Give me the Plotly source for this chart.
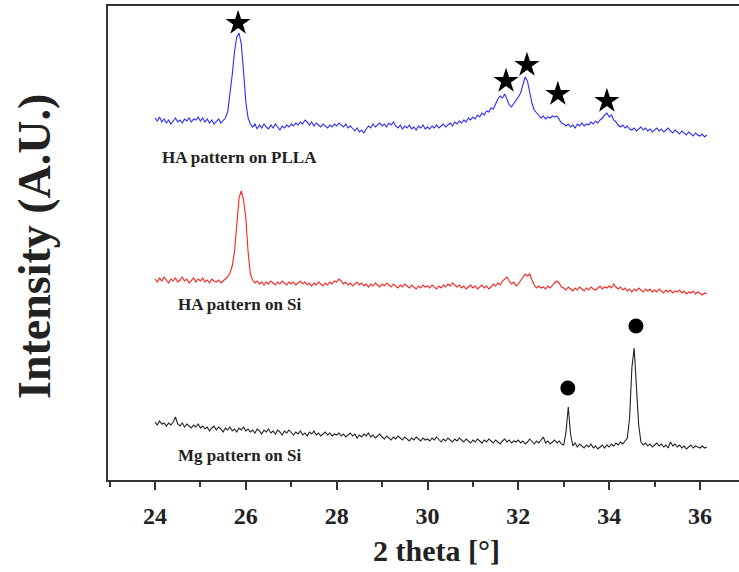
import numpy as np
import plotly.graph_objects as go

# 2-theta grid: start and step of the scans (degrees)
theta_start = 24.0
theta_step = 0.05

# HA pattern on PLLA (blue), arbitrary stacked intensity
ha_plla = [
    362, 359, 363, 358, 361, 357, 360, 356, 359, 362, 358, 360, 357, 361, 359, 362, 358, 361, 360, 363,
    359, 362, 358, 361, 357, 360, 356, 359, 361, 357, 360, 362, 368, 385, 405, 428, 443, 447, 436, 408,
    378, 362, 356, 353, 356, 351, 355, 352, 356, 353, 351, 355, 352, 356, 353, 350, 354, 352, 355, 353,
    356, 354, 357, 355, 358, 356, 360, 358, 355, 358, 354, 357, 355, 353, 356, 354, 352, 355, 353, 356,
    354, 357, 355, 353, 356, 352, 354, 351, 349, 352, 348, 350, 347, 351, 354, 352, 356, 353, 355, 357,
    354, 356, 353, 357, 355, 358, 354, 352, 355, 351, 354, 352, 355, 351, 353, 350, 354, 352, 355, 351,
    353, 351, 354, 352, 355, 352, 354, 356, 353, 355, 357, 354, 358, 356, 359, 357, 360, 358, 362, 360,
    363, 361, 365, 363, 367, 365, 369, 368, 372, 371, 376, 381, 384, 382, 386, 381, 375, 373, 376, 379,
    383, 387, 396, 403, 399, 388, 377, 370, 367, 364, 362, 364, 361, 363, 362, 364, 363, 364, 360, 357,
    356, 354, 356, 353, 355, 352, 356, 354, 357, 354, 356, 355, 358, 356, 359, 357, 360, 362, 365, 367,
    363, 365, 360, 358, 355, 353, 355, 352, 354, 351, 350, 352, 349, 351, 353, 350, 352, 349, 351, 348,
    350, 352, 349, 351, 348, 350, 352, 349, 347, 350, 348, 346, 349, 347, 345, 348, 346, 344, 347, 345,
    344, 346, 343, 345,
]

# HA pattern on Si (red)
ha_si = [
    201, 198, 202, 199, 203, 200, 197, 201, 199, 202, 198, 200, 203, 199, 201, 197, 200, 202, 198, 201,
    199, 202, 198, 200, 197, 201, 199, 198, 200, 197, 199, 201, 203, 207, 214, 228, 255, 282, 289, 280,
    262, 228, 206, 200, 197, 199, 196, 198, 195, 198, 196, 199, 197, 195, 198, 196, 199, 197, 195, 198,
    196, 198, 195, 197, 199, 196, 198, 195, 197, 194, 197, 195, 198, 196, 194, 197, 195, 198, 196, 199,
    198, 201, 199, 196, 198, 195, 197, 194, 196, 198, 195, 197, 194, 196, 193, 196, 194, 197, 195, 193,
    196, 194, 197, 195, 193, 196, 194, 192, 195, 193, 196, 194, 192, 195, 193, 191, 194, 192, 195, 193,
    194, 192, 195, 193, 191, 194, 192, 195, 193, 196, 194, 197, 195, 193, 195, 192, 194, 191, 193, 195,
    192, 194, 191, 193, 195, 192, 194, 191, 193, 196, 194, 197, 195, 199, 201, 203, 199, 196, 198, 194,
    196, 199, 202, 206, 204, 206, 200, 195, 192, 194, 192, 193, 191, 194, 192, 195, 197, 199, 197, 193,
    192, 190, 193, 191, 189, 192, 190, 193, 191, 189, 192, 190, 193, 191, 190, 192, 194, 191, 193, 192,
    194, 192, 196, 193, 191, 193, 190, 192, 189, 191, 188, 191, 189, 192, 190, 188, 191, 189, 191, 188,
    190, 188, 191, 189, 187, 190, 188, 190, 187, 189, 188, 190, 187, 189, 186, 188, 187, 189, 186, 188,
    187, 185, 187, 186,
]

# Mg pattern on Si (black)
mg_si = [
    58, 55, 59, 56, 57, 54, 57, 55, 58, 63, 56, 54, 57, 53, 56, 54, 52, 55, 53, 56,
    52, 54, 51, 53, 49, 52, 54, 50, 53, 51, 48, 52, 50, 53, 49, 51, 48, 52, 50, 53,
    49, 51, 48, 50, 47, 51, 49, 46, 50, 48, 51, 47, 49, 46, 50, 48, 45, 49, 47, 50,
    47, 45, 48, 46, 49, 45, 47, 44, 48, 46, 49, 45, 47, 44, 46, 48, 45, 47, 44, 46,
    45, 47, 44, 46, 43, 45, 47, 44, 46, 42, 45, 43, 46, 44, 47, 43, 45, 42, 44, 46,
    43, 41, 44, 42, 40, 43, 41, 44, 42, 40, 43, 41, 39, 42, 40, 43, 41, 39, 42, 40,
    41, 39, 42, 40, 43, 40, 38, 41, 39, 42, 40, 38, 41, 39, 42, 40, 38, 41, 39, 37,
    40, 38, 41, 39, 37, 40, 38, 41, 39, 37, 40, 38, 36, 39, 41, 38, 40, 37, 39, 38,
    40, 37, 39, 36, 38, 41, 38, 36, 39, 37, 40, 43, 37, 39, 36, 38, 40, 37, 39, 36,
    35, 48, 73, 46, 34, 37, 33, 36, 34, 32, 35, 33, 36, 32, 34, 31, 33, 35, 32, 35,
    33, 36, 34, 37, 35, 38, 36, 39, 42, 62, 112, 132, 98, 55, 38, 35, 37, 34, 36, 33,
    35, 37, 34, 36, 33, 35, 32, 38, 34, 36, 33, 35, 32, 34, 31, 33, 35, 32, 34, 33,
    32, 34, 32, 33,
]

# Peak markers
star_x = [25.83, 31.73, 32.19, 32.87, 33.95]
star_y = [457, 399, 415, 386, 379]
dot_x = [33.09, 34.59]
dot_y = [92, 154]

# Series labels
label_text = ["HA pattern on PLLA", "HA pattern on Si", "Mg pattern on Si"]
label_x = [24.11, 24.46, 24.46]
label_y = [323, 176, 25]

tick_vals = [24, 26, 28, 30, 32, 34, 36]


def grid(vals):
    return np.round(theta_start + theta_step * np.arange(len(vals)), 3)


SERIF = "Liberation Serif, Times New Roman, serif"
AXC = "#333333"

fig = go.Figure()
fig.add_trace(go.Scatter(x=grid(ha_plla), y=ha_plla, mode="lines",
                         line=dict(color="#2b2bff", width=1.1), showlegend=False))
fig.add_trace(go.Scatter(x=grid(ha_si), y=ha_si, mode="lines",
                         line=dict(color="#ff2020", width=1.1), showlegend=False))
fig.add_trace(go.Scatter(x=grid(mg_si), y=mg_si, mode="lines",
                         line=dict(color="#222222", width=1.1), showlegend=False))
fig.add_trace(go.Scatter(x=star_x, y=star_y, mode="markers",
                         marker=dict(symbol="star", size=19, color="black"), showlegend=False))
fig.add_trace(go.Scatter(x=dot_x, y=dot_y, mode="markers",
                         marker=dict(symbol="circle", size=15, color="black"), showlegend=False))

annotations = []
for t, x, y in zip(label_text, label_x, label_y):
    annotations.append(dict(x=x, y=y, xref="x", yref="y", text="<b>%s</b>" % t,
                            showarrow=False, xanchor="left", yanchor="middle",
                            font=dict(family=SERIF, size=17, color="#222")))
annotations.append(dict(x=(437 - 108) / 631, y=(480 - 550) / 474, xref="paper", yref="paper",
                        text="<b>2 theta [°]</b>", showarrow=False, xanchor="center",
                        yanchor="middle", font=dict(family=SERIF, size=30, color="#222")))
annotations.append(dict(x=(34 - 108) / 631, y=(480 - 247) / 474, xref="paper", yref="paper",
                        text="<b>Intensity (A.U.)</b>", showarrow=False, textangle=-90,
                        xanchor="center", yanchor="middle",
                        font=dict(family=SERIF, size=46, color="#222")))

fig.update_layout(
    width=739, height=572,
    margin=dict(l=108, r=0, t=6, b=92),
    paper_bgcolor="white", plot_bgcolor="white",
    annotations=annotations,
    xaxis=dict(range=[22.965, 36.859], showline=True, linecolor=AXC, linewidth=2, mirror=True,
               ticks="outside", ticklen=8, tickwidth=2, tickcolor=AXC,
               tickvals=tick_vals, ticktext=[str(v) for v in tick_vals],
               tickfont=dict(family=SERIF, size=24, color="#222", weight="bold"),
               ticklabelstandoff=5,
               showgrid=False, zeroline=False,
               minor=dict(dtick=1, tick0=23, ticks="outside", ticklen=5, tickwidth=2,
                          tickcolor=AXC, showgrid=False)),
    yaxis=dict(range=[0, 474], showline=True, linecolor=AXC, linewidth=2, mirror=False,
               ticks="", showticklabels=False, showgrid=False, zeroline=False),
)

fig.write_html("out.html")
